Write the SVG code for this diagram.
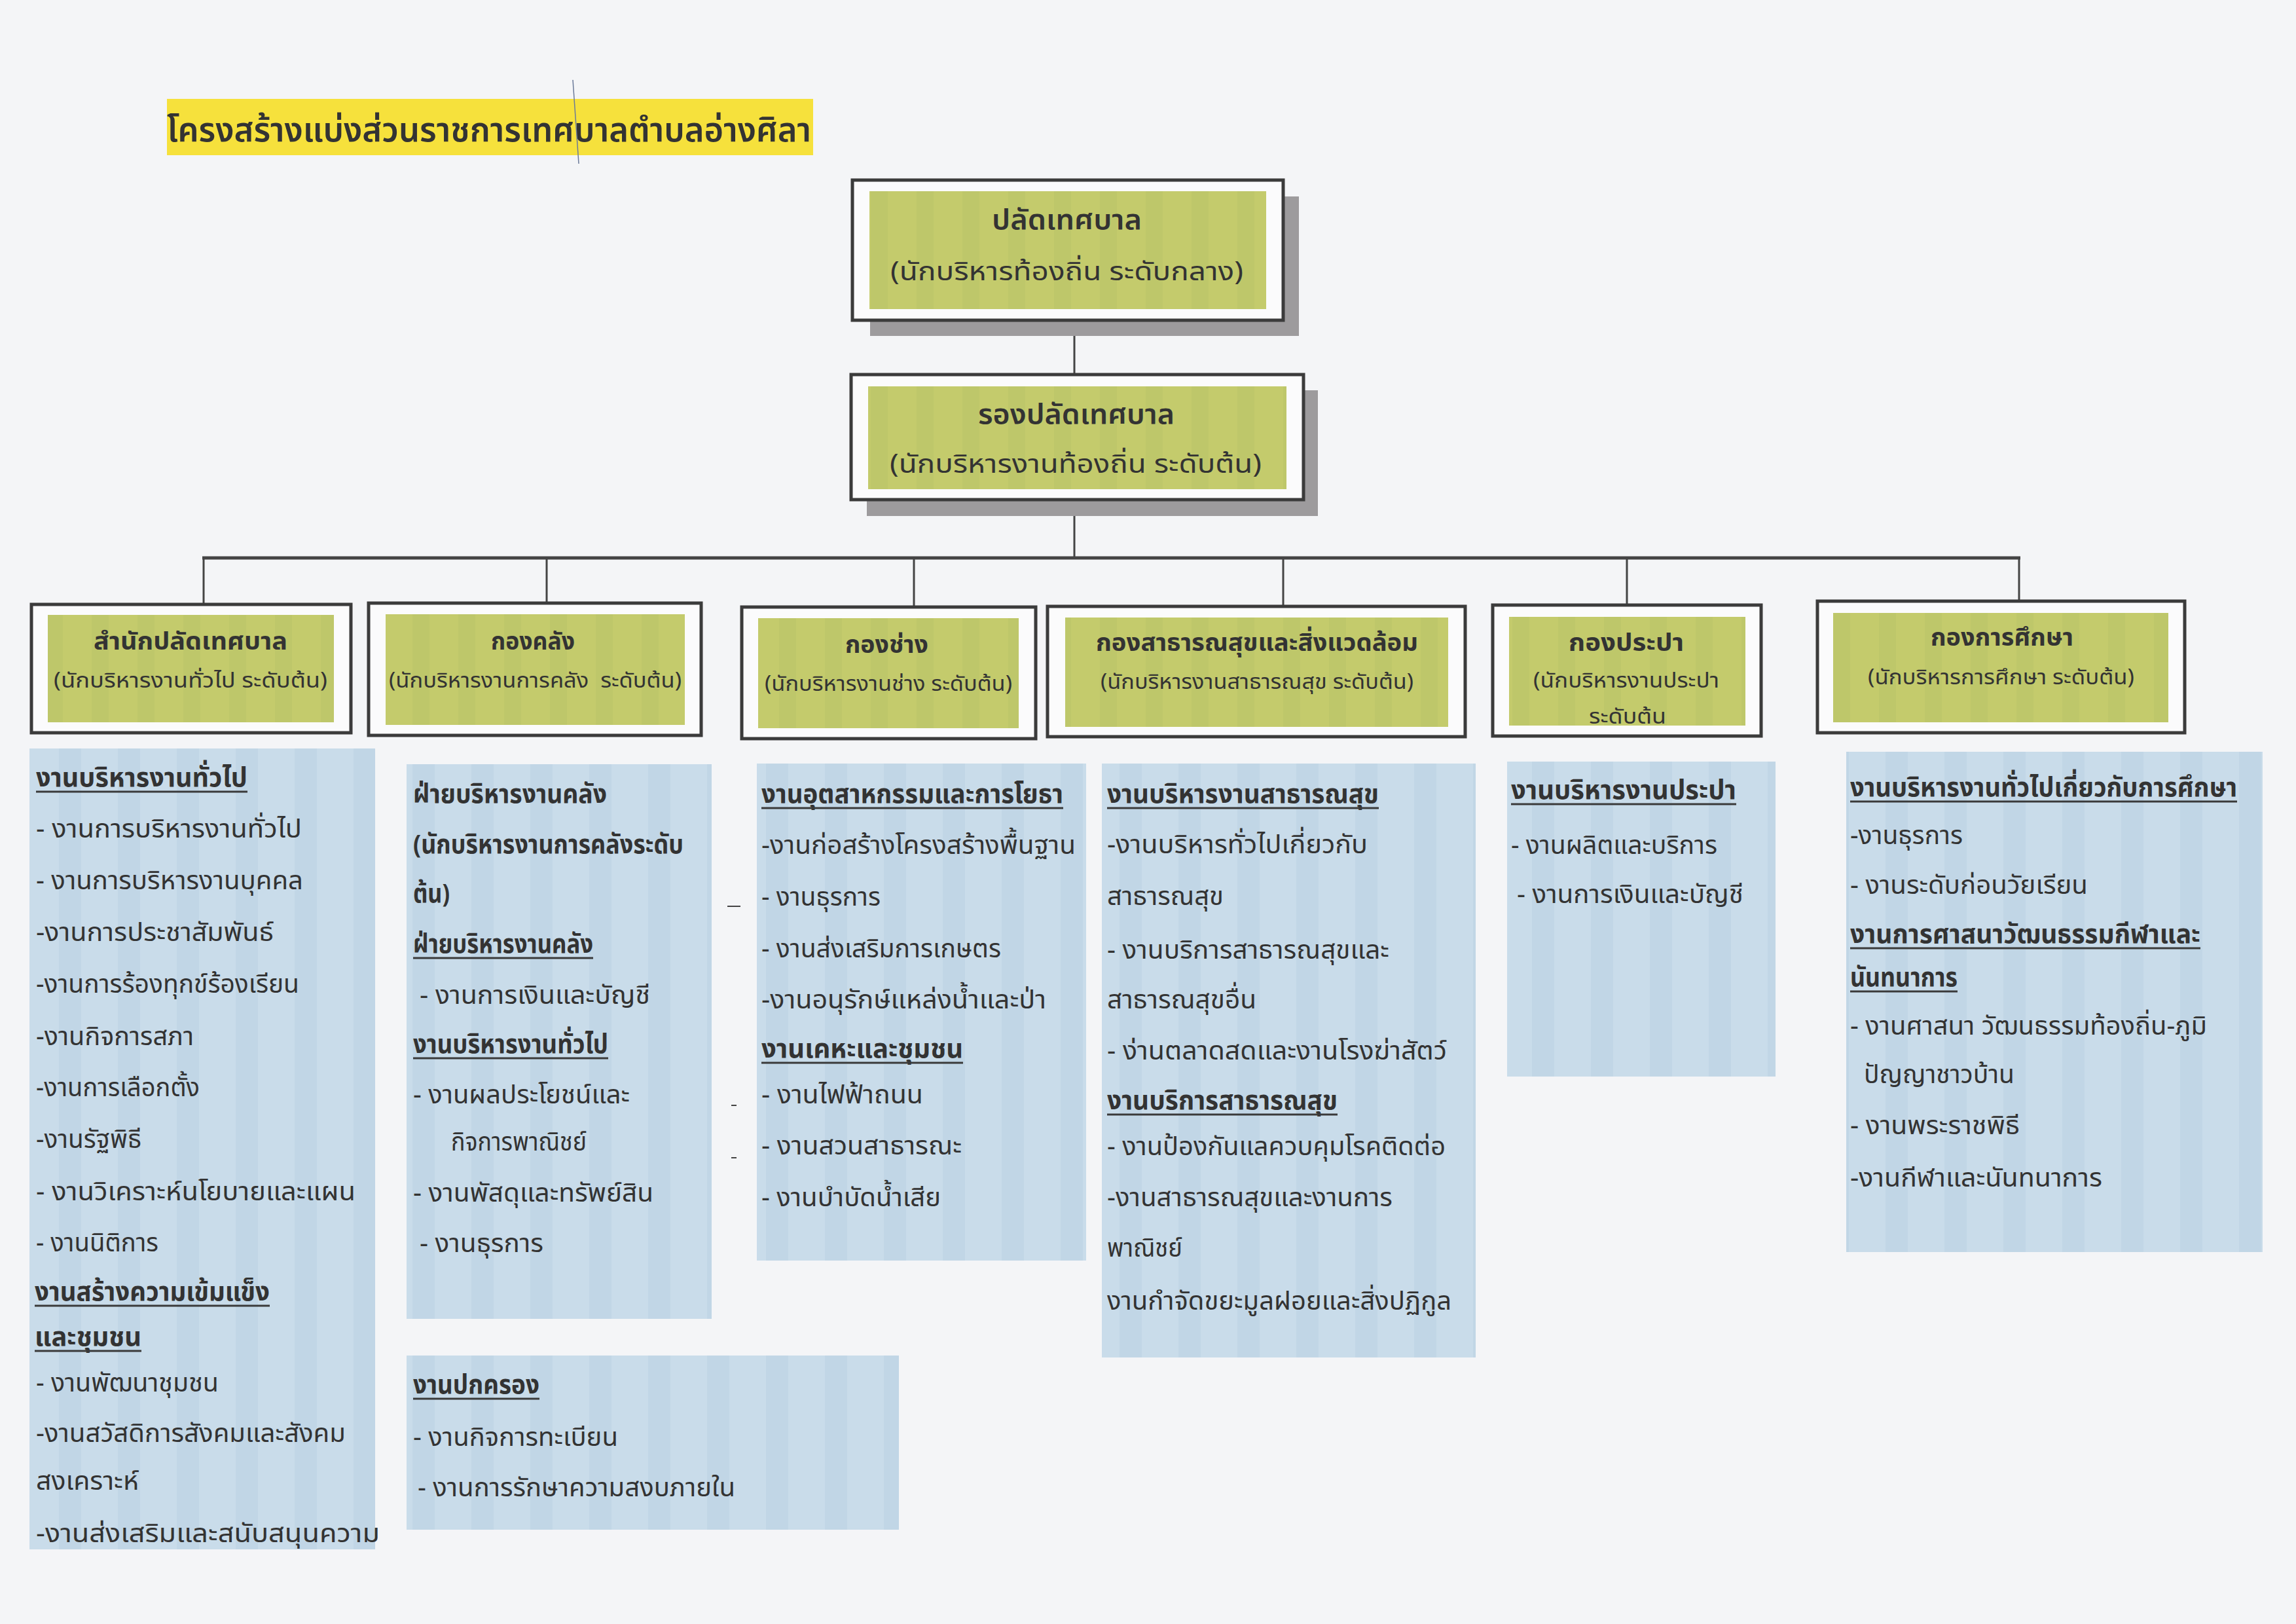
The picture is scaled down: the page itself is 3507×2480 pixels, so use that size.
<svg xmlns="http://www.w3.org/2000/svg" width="3507" height="2480" viewBox="0 0 3507 2480">
<style>
.bg{fill:#f4f5f7}
.frame{fill:#fbfbfc;stroke:#3b3b3b;stroke-width:5}
.green{fill:url(#gstripe)}
.shadow{fill:#9d9b9d}
.blue{fill:url(#bstripe)}
.conn{stroke:#444;stroke-width:3;fill:none}
.bus{stroke:#444;stroke-width:5;fill:none}
.ul{stroke:#3a3a3a;stroke-width:3}
.mark{stroke:#444;stroke-width:2}
text{font-family:"Noto Sans Thai","Noto Serif Thai","Sarabun","Loma","Garuda","Noto Sans","DejaVu Sans",sans-serif;fill:#333}
.title{font-size:52px;font-weight:600}
.tb{font-size:42px;font-weight:600}
.ts{font-size:40px}
.dt{font-size:38px;font-weight:700}
.ds{font-size:32px}
.b{font-size:40px}
.bh{font-size:40px;font-weight:700}
</style>
<defs>
<pattern id="gstripe" width="70" height="10" patternUnits="userSpaceOnUse"><rect width="70" height="10" fill="#c4cb6c"/><rect x="0" width="26" height="10" fill="#bec76a"/></pattern>
<pattern id="bstripe" width="90" height="10" patternUnits="userSpaceOnUse"><rect width="90" height="10" fill="#c9dcea"/><rect x="0" width="34" height="10" fill="#c1d6e6"/></pattern>
</defs>
<rect class="bg" x="0" y="0" width="3507" height="2480"/>

<g id="page-title">
<rect x="255" y="151" width="987" height="86" fill="#f6e13c"/>
<text class="title" x="255" y="216" textLength="984" lengthAdjust="spacingAndGlyphs">โครงสร้างแบ่งส่วนราชการเทศบาลตำบลอ่างศิลา</text>
<line x1="875" y1="122" x2="884" y2="250" stroke="#6b7a99" stroke-width="1.5"/>
</g>

<g id="connectors">
<line class="conn" x1="1641" y1="489" x2="1641" y2="574"/>
<line class="conn" x1="1641" y1="764" x2="1641" y2="852"/>
<line class="bus" x1="309" y1="852" x2="3086" y2="852"/>
<line class="conn" x1="311" y1="852" x2="311" y2="923"/>
<line class="conn" x1="835" y1="852" x2="835" y2="921"/>
<line class="conn" x1="1396" y1="852" x2="1396" y2="927"/>
<line class="conn" x1="1960" y1="852" x2="1960" y2="926"/>
<line class="conn" x1="2485" y1="852" x2="2485" y2="924"/>
<line class="conn" x1="3084" y1="852" x2="3084" y2="918"/>
</g>

<g id="node-palad">
<rect class="shadow" x="1329" y="300" width="655" height="213"/>
<rect class="frame" x="1302" y="275" width="658" height="214"/>
<rect class="green" x="1328" y="292" width="606" height="180"/>
<text class="tb" x="1515" y="350" textLength="229" lengthAdjust="spacingAndGlyphs">ปลัดเทศบาล</text>
<text class="ts" x="1360" y="428" textLength="539" lengthAdjust="spacingAndGlyphs">(นักบริหารท้องถิ่น ระดับกลาง)</text>
</g>

<g id="node-rongpalad">
<rect class="shadow" x="1324" y="596" width="689" height="192"/>
<rect class="frame" x="1300" y="572" width="691" height="191"/>
<rect class="green" x="1326" y="590" width="639" height="157"/>
<text class="tb" x="1494" y="647" textLength="300" lengthAdjust="spacingAndGlyphs">รองปลัดเทศบาล</text>
<text class="ts" x="1359" y="722" textLength="568" lengthAdjust="spacingAndGlyphs">(นักบริหารงานท้องถิ่น ระดับต้น)</text>
</g>

<g id="node-samnak">
<rect class="frame" x="48" y="923" width="488" height="196"/>
<rect class="green" x="73" y="939" width="437" height="164"/>
<text class="dt" x="143" y="992" textLength="296" lengthAdjust="spacingAndGlyphs">สำนักปลัดเทศบาล</text>
<text class="ds" x="82" y="1050" textLength="418" lengthAdjust="spacingAndGlyphs">(นักบริหารงานทั่วไป ระดับต้น)</text>
</g>

<g id="node-klang">
<rect class="frame" x="563" y="921" width="508" height="202"/>
<rect class="green" x="589" y="938" width="457" height="169"/>
<text class="dt" x="750" y="992" textLength="128" lengthAdjust="spacingAndGlyphs">กองคลัง</text>
<text class="ds" x="594" y="1050" textLength="447" lengthAdjust="spacingAndGlyphs" style="white-space:pre">(นักบริหารงานการคลัง  ระดับต้น)</text>
</g>

<g id="node-chang">
<rect class="frame" x="1133" y="927" width="449" height="201"/>
<rect class="green" x="1158" y="944" width="398" height="168"/>
<text class="dt" x="1291" y="997" textLength="127" lengthAdjust="spacingAndGlyphs">กองช่าง</text>
<text class="ds" x="1168" y="1055" textLength="378" lengthAdjust="spacingAndGlyphs">(นักบริหารงานช่าง ระดับต้น)</text>
</g>

<g id="node-satharana">
<rect class="frame" x="1600" y="926" width="638" height="199"/>
<rect class="green" x="1627" y="943" width="585" height="167"/>
<text class="dt" x="1674" y="994" textLength="492" lengthAdjust="spacingAndGlyphs">กองสาธารณสุขและสิ่งแวดล้อม</text>
<text class="ds" x="1681" y="1052" textLength="478" lengthAdjust="spacingAndGlyphs">(นักบริหารงานสาธารณสุข ระดับต้น)</text>
</g>

<g id="node-prapa">
<rect class="frame" x="2280" y="924" width="410" height="200"/>
<rect class="green" x="2305" y="942" width="361" height="166"/>
<text class="dt" x="2396" y="994" textLength="176" lengthAdjust="spacingAndGlyphs">กองประปา</text>
<text class="ds" x="2342" y="1050" textLength="284" lengthAdjust="spacingAndGlyphs">(นักบริหารงานประปา</text>
<text class="ds" x="2427" y="1105" textLength="118" lengthAdjust="spacingAndGlyphs">ระดับต้น</text>
</g>

<g id="node-suksa">
<rect class="frame" x="2776" y="918" width="561" height="201"/>
<rect class="green" x="2800" y="936" width="512" height="167"/>
<text class="dt" x="2949" y="986" textLength="218" lengthAdjust="spacingAndGlyphs">กองการศึกษา</text>
<text class="ds" x="2853" y="1045" textLength="407" lengthAdjust="spacingAndGlyphs">(นักบริหารการศึกษา ระดับต้น)</text>
</g>

<g id="list-samnak">
<rect class="blue" x="45" y="1143" width="528" height="1223"/>
<text class="bh" x="55" y="1201" textLength="323" lengthAdjust="spacingAndGlyphs">งานบริหารงานทั่วไป</text>
<line class="ul" x1="55" y1="1209" x2="378" y2="1209"/>
<text class="b" x="55" y="1279" textLength="406" lengthAdjust="spacingAndGlyphs">- งานการบริหารงานทั่วไป</text>
<text class="b" x="55" y="1358" textLength="408" lengthAdjust="spacingAndGlyphs">- งานการบริหารงานบุคคล</text>
<text class="b" x="55" y="1437" textLength="363" lengthAdjust="spacingAndGlyphs">-งานการประชาสัมพันธ์</text>
<text class="b" x="55" y="1516" textLength="402" lengthAdjust="spacingAndGlyphs">-งานการร้องทุกข์ร้องเรียน</text>
<text class="b" x="55" y="1596" textLength="241" lengthAdjust="spacingAndGlyphs">-งานกิจการสภา</text>
<text class="b" x="55" y="1674" textLength="250" lengthAdjust="spacingAndGlyphs">-งานการเลือกตั้ง</text>
<text class="b" x="55" y="1753" textLength="161" lengthAdjust="spacingAndGlyphs">-งานรัฐพิธี</text>
<text class="b" x="55" y="1833" textLength="488" lengthAdjust="spacingAndGlyphs">- งานวิเคราะห์นโยบายและแผน</text>
<text class="b" x="55" y="1911" textLength="187" lengthAdjust="spacingAndGlyphs">- งานนิติการ</text>
<text class="bh" x="53" y="1986" textLength="359" lengthAdjust="spacingAndGlyphs">งานสร้างความเข้มแข็ง</text>
<line class="ul" x1="53" y1="1994" x2="412" y2="1994"/>
<text class="bh" x="53" y="2055" textLength="163" lengthAdjust="spacingAndGlyphs">และชุมชน</text>
<line class="ul" x1="53" y1="2063" x2="216" y2="2063"/>
<text class="b" x="55" y="2125" textLength="279" lengthAdjust="spacingAndGlyphs">- งานพัฒนาชุมชน</text>
<text class="b" x="55" y="2202" textLength="473" lengthAdjust="spacingAndGlyphs">-งานสวัสดิการสังคมและสังคม</text>
<text class="b" x="55" y="2275" textLength="157" lengthAdjust="spacingAndGlyphs">สงเคราะห์</text>
<text class="b" x="55" y="2355" textLength="525" lengthAdjust="spacingAndGlyphs">-งานส่งเสริมและสนับสนุนความ</text>
</g>

<g id="list-klang">
<rect class="blue" x="621" y="1167" width="466" height="847"/>
<text class="bh" x="631" y="1226" textLength="296" lengthAdjust="spacingAndGlyphs">ฝ่ายบริหารงานคลัง</text>
<text class="bh" x="631" y="1303" textLength="413" lengthAdjust="spacingAndGlyphs">(นักบริหารงานการคลังระดับ</text>
<text class="bh" x="631" y="1378" textLength="56" lengthAdjust="spacingAndGlyphs">ต้น)</text>
<text class="bh" x="631" y="1455" textLength="275" lengthAdjust="spacingAndGlyphs">ฝ่ายบริหารงานคลัง</text>
<line class="ul" x1="631" y1="1463" x2="906" y2="1463"/>
<text class="b" x="641" y="1533" textLength="352" lengthAdjust="spacingAndGlyphs">- งานการเงินและบัญชี</text>
<text class="bh" x="631" y="1608" textLength="298" lengthAdjust="spacingAndGlyphs">งานบริหารงานทั่วไป</text>
<line class="ul" x1="631" y1="1616" x2="929" y2="1616"/>
<text class="b" x="631" y="1685" textLength="331" lengthAdjust="spacingAndGlyphs">- งานผลประโยชน์และ</text>
<text class="b" x="689" y="1757" textLength="207" lengthAdjust="spacingAndGlyphs">กิจการพาณิชย์</text>
<text class="b" x="631" y="1835" textLength="367" lengthAdjust="spacingAndGlyphs">- งานพัสดุและทรัพย์สิน</text>
<text class="b" x="641" y="1912" textLength="189" lengthAdjust="spacingAndGlyphs">- งานธุรการ</text>
</g>

<g id="list-pokkrong">
<rect class="blue" x="621" y="2070" width="752" height="266"/>
<text class="bh" x="631" y="2128" textLength="193" lengthAdjust="spacingAndGlyphs">งานปกครอง</text>
<line class="ul" x1="631" y1="2136" x2="824" y2="2136"/>
<text class="b" x="631" y="2208" textLength="313" lengthAdjust="spacingAndGlyphs">- งานกิจการทะเบียน</text>
<text class="b" x="638" y="2285" textLength="485" lengthAdjust="spacingAndGlyphs">- งานการรักษาความสงบภายใน</text>
</g>

<g id="list-chang">
<rect class="blue" x="1156" y="1166" width="503" height="759"/>
<text class="bh" x="1163" y="1226" textLength="461" lengthAdjust="spacingAndGlyphs">งานอุตสาหกรรมและการโยธา</text>
<line class="ul" x1="1163" y1="1234" x2="1624" y2="1234"/>
<text class="b" x="1163" y="1304" textLength="480" lengthAdjust="spacingAndGlyphs">-งานก่อสร้างโครงสร้างพื้นฐาน</text>
<text class="b" x="1163" y="1383" textLength="182" lengthAdjust="spacingAndGlyphs">- งานธุรการ</text>
<text class="b" x="1163" y="1462" textLength="366" lengthAdjust="spacingAndGlyphs">- งานส่งเสริมการเกษตร</text>
<text class="b" x="1163" y="1540" textLength="435" lengthAdjust="spacingAndGlyphs">-งานอนุรักษ์แหล่งน้ำและป่า</text>
<text class="bh" x="1163" y="1615" textLength="308" lengthAdjust="spacingAndGlyphs">งานเคหะและชุมชน</text>
<line class="ul" x1="1163" y1="1623" x2="1471" y2="1623"/>
<text class="b" x="1163" y="1685" textLength="247" lengthAdjust="spacingAndGlyphs">- งานไฟฟ้าถนน</text>
<text class="b" x="1163" y="1763" textLength="306" lengthAdjust="spacingAndGlyphs">- งานสวนสาธารณะ</text>
<text class="b" x="1163" y="1842" textLength="274" lengthAdjust="spacingAndGlyphs">- งานบำบัดน้ำเสีย</text>
</g>

<g id="list-satharana">
<rect class="blue" x="1683" y="1166" width="571" height="907"/>
<text class="bh" x="1691" y="1226" textLength="415" lengthAdjust="spacingAndGlyphs">งานบริหารงานสาธารณสุข</text>
<line class="ul" x1="1691" y1="1234" x2="2106" y2="1234"/>
<text class="b" x="1691" y="1303" textLength="398" lengthAdjust="spacingAndGlyphs">-งานบริหารทั่วไปเกี่ยวกับ</text>
<text class="b" x="1691" y="1382" textLength="178" lengthAdjust="spacingAndGlyphs">สาธารณสุข</text>
<text class="b" x="1691" y="1464" textLength="431" lengthAdjust="spacingAndGlyphs">- งานบริการสาธารณสุขและ</text>
<text class="b" x="1691" y="1540" textLength="228" lengthAdjust="spacingAndGlyphs">สาธารณสุขอื่น</text>
<text class="b" x="1691" y="1618" textLength="519" lengthAdjust="spacingAndGlyphs">- ง่านตลาดสดและงานโรงฆ่าสัตว์</text>
<text class="bh" x="1691" y="1694" textLength="352" lengthAdjust="spacingAndGlyphs">งานบริการสาธารณสุข</text>
<line class="ul" x1="1691" y1="1702" x2="2043" y2="1702"/>
<text class="b" x="1691" y="1764" textLength="517" lengthAdjust="spacingAndGlyphs">- งานป้องกันแลควบคุมโรคติดต่อ</text>
<text class="b" x="1691" y="1842" textLength="436" lengthAdjust="spacingAndGlyphs">-งานสาธารณสุขและงานการ</text>
<text class="b" x="1691" y="1919" textLength="115" lengthAdjust="spacingAndGlyphs">พาณิชย์</text>
<text class="b" x="1691" y="2000" textLength="526" lengthAdjust="spacingAndGlyphs">งานกำจัดขยะมูลฝอยและสิ่งปฏิกูล</text>
</g>

<g id="list-prapa">
<rect class="blue" x="2302" y="1163" width="410" height="481"/>
<text class="bh" x="2308" y="1220" textLength="344" lengthAdjust="spacingAndGlyphs">งานบริหารงานประปา</text>
<line class="ul" x1="2308" y1="1228" x2="2652" y2="1228"/>
<text class="b" x="2308" y="1304" textLength="315" lengthAdjust="spacingAndGlyphs">- งานผลิตและบริการ</text>
<text class="b" x="2317" y="1379" textLength="346" lengthAdjust="spacingAndGlyphs">- งานการเงินและบัญชี</text>
</g>

<g id="list-suksa">
<rect class="blue" x="2820" y="1148" width="636" height="764"/>
<text class="bh" x="2826" y="1216" textLength="591" lengthAdjust="spacingAndGlyphs">งานบริหารงานทั่วไปเกี่ยวกับการศึกษา</text>
<line class="ul" x1="2826" y1="1224" x2="3417" y2="1224"/>
<text class="b" x="2826" y="1289" textLength="172" lengthAdjust="spacingAndGlyphs">-งานธุรการ</text>
<text class="b" x="2826" y="1365" textLength="363" lengthAdjust="spacingAndGlyphs">- งานระดับก่อนวัยเรียน</text>
<text class="bh" x="2826" y="1440" textLength="535" lengthAdjust="spacingAndGlyphs">งานการศาสนาวัฒนธรรมกีฬาและ</text>
<line class="ul" x1="2826" y1="1448" x2="3361" y2="1448"/>
<text class="bh" x="2826" y="1506" textLength="164" lengthAdjust="spacingAndGlyphs">นันทนาการ</text>
<line class="ul" x1="2826" y1="1514" x2="2990" y2="1514"/>
<text class="b" x="2826" y="1580" textLength="545" lengthAdjust="spacingAndGlyphs">- งานศาสนา วัฒนธรรมท้องถิ่น-ภูมิ</text>
<text class="b" x="2847" y="1654" textLength="230" lengthAdjust="spacingAndGlyphs">ปัญญาชาวบ้าน</text>
<text class="b" x="2826" y="1732" textLength="259" lengthAdjust="spacingAndGlyphs">- งานพระราชพิธี</text>
<text class="b" x="2826" y="1812" textLength="385" lengthAdjust="spacingAndGlyphs">-งานกีฬาและนันทนาการ</text>
</g>

<g id="stray-marks">
<line class="mark" x1="1111" y1="1384" x2="1131" y2="1384"/>
<line class="mark" x1="1117" y1="1688" x2="1125" y2="1688"/>
<line class="mark" x1="1117" y1="1768" x2="1125" y2="1768"/>
</g>
</svg>
